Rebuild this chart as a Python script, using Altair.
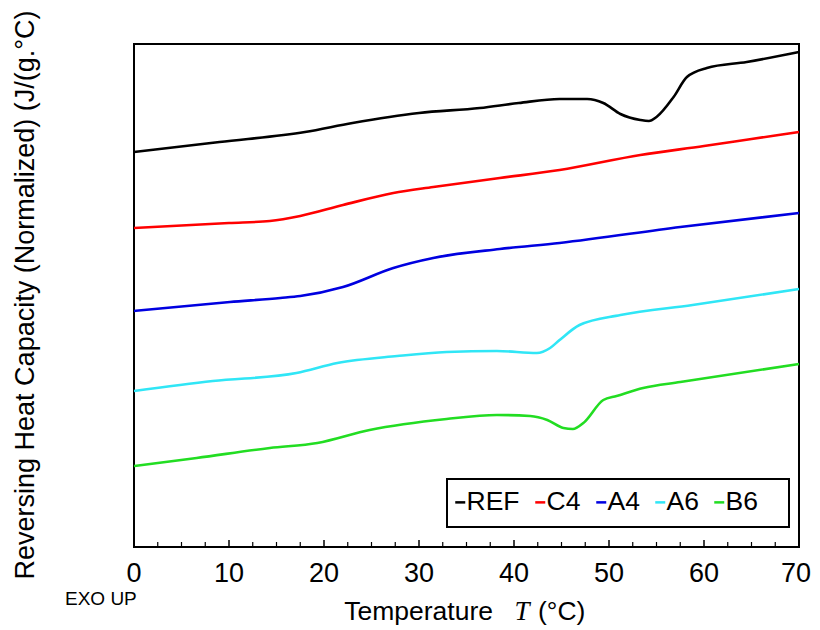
import altair as alt
import pandas as pd

# ---- data (x = temperature in °C, y = curve height, arbitrary units) ----
ref_t = [0, 9, 18, 23, 30, 36.4, 40.5, 44.8, 47.7, 49.4, 51.2, 53.3, 54.2, 55, 56.8, 58.2, 60.3, 64.5, 70]
ref_v = [395, 405, 415, 424, 434, 439, 444, 448, 448, 444, 433, 427, 426, 430, 450, 470, 479, 485, 495]

c4_t = [0, 10, 14.3, 17.5, 22, 27.3, 31.5, 38.5, 44.8, 53.3, 60, 65, 70]
c4_v = [319, 324, 326, 331, 342, 354, 360, 369, 377, 392, 401, 408, 415]

a4_t = [0, 10.1, 15.4, 17.5, 22, 27.3, 31.5, 38.5, 44.8, 57.5, 70]
a4_v = [236, 245, 249, 251, 260, 279, 289, 298, 304, 320, 334]

a6_t = [0, 8.3, 17.1, 21.4, 27.7, 32.9, 38.2, 42.4, 43.8, 44.8, 46.9, 51.2, 58.8, 70]
a6_v = [156, 166, 174, 184, 191, 195, 196, 194, 199, 207, 222, 232, 242, 258]

b6_t = [0, 6.6, 14.3, 19.3, 24.8, 32.9, 38.2, 41.7, 43.5, 45.2, 46.2, 47.3, 49.4, 50.8, 53.6, 57.5, 70]
b6_v = [81, 89, 99, 104, 117, 128, 132, 131, 127, 119, 118, 124, 147, 151, 159, 165, 183]

names = ["REF", "C4", "A4", "A6", "B6"]
colors = ["#000000", "#ff0000", "#0000e0", "#30e6f6", "#22dd22"]

major_ticks = [0, 10, 20, 30, 40, 50, 60, 70]
minor_ticks = [2.5, 5, 7.5, 12.5, 15, 17.5, 22.5, 25, 27.5, 32.5, 35, 37.5,
               42.5, 45, 47.5, 52.5, 55, 57.5, 62.5, 65, 67.5]

series = [(n, t, v) for n, t, v in zip(names,
                                       [ref_t, c4_t, a4_t, a6_t, b6_t],
                                       [ref_v, c4_v, a4_v, a6_v, b6_v])]
rows = []
for name, ts, vs in series:
    for t, v in zip(ts, vs):
        rows.append({"sample": name, "T": t, "cp": v})
df = pd.DataFrame(rows)

W, H = 665, 503
FONT = "Liberation Sans"
xs = alt.Scale(domain=[0, 70], nice=False, zero=False)
ys = alt.Scale(domain=[0, 503], nice=False, zero=False)

box = alt.Chart(pd.DataFrame({"a": [0]})).mark_rect(
    fill="white", stroke="black", strokeWidth=2
).encode(x=alt.value(313), x2=alt.value(655), y=alt.value(435), y2=alt.value(483))

lines = alt.Chart(df).mark_line(strokeWidth=2.6, interpolate="monotone").encode(
    x=alt.X("T:Q", scale=xs, axis=None),
    y=alt.Y("cp:Q", scale=ys, axis=None),
    color=alt.Color("sample:N", scale=alt.Scale(domain=names, range=colors),
                    legend=alt.Legend(title=None, orient="none", legendX=313, legendY=445,
                                      direction="horizontal", columns=5,
                                      symbolType="stroke", symbolSize=100,
                                      symbolStrokeWidth=2.5, labelFontSize=26.5,
                                      labelFont=FONT, labelColor="black",
                                      labelOffset={"expr": "-7"}, columnPadding=7,
                                      padding=0)),
)

maj = alt.Chart(pd.DataFrame({"T": major_ticks})).mark_rule(color="black", strokeWidth=1.5).encode(
    x=alt.X("T:Q", scale=xs), y=alt.value(H), y2=alt.value(H - 7))
mnr = alt.Chart(pd.DataFrame({"T": minor_ticks})).mark_rule(color="black", strokeWidth=1.2).encode(
    x=alt.X("T:Q", scale=xs), y=alt.value(H), y2=alt.value(H - 5))

# tick labels (last one nudged left so it stays inside the page)
lab_df = pd.DataFrame({"T": major_ticks, "lab": [str(v) for v in major_ticks]})
labs_main = alt.Chart(lab_df[lab_df["T"] < 70]).mark_text(
    fontSize=27, font=FONT, color="black", align="center", baseline="alphabetic"
).encode(x=alt.X("T:Q", scale=xs), y=alt.value(H + 35), text="lab:N")
labs_last = alt.Chart(lab_df[lab_df["T"] == 70]).mark_text(
    fontSize=27, font=FONT, color="black", align="center", baseline="alphabetic", dx=-3
).encode(x=alt.X("T:Q", scale=xs), y=alt.value(H + 35), text="lab:N")


def txt(s, x, y, **kw):
    return alt.Chart(pd.DataFrame({"t": [s]})).mark_text(color="black", **kw).encode(
        x=alt.value(x), y=alt.value(y), text="t:N")


t1 = txt("Temperature", 359, 576, align="right", baseline="alphabetic", fontSize=26.5, font=FONT)
t2 = txt("T", 388, 576, align="center", baseline="alphabetic", fontSize=27,
         font="Liberation Serif", fontStyle="italic")
t3 = txt("(°C)", 404, 576, align="left", baseline="alphabetic", fontSize=26.5, font=FONT)
ytitle = txt("Reversing Heat Capacity (Normalized)  (J/(g.°C)", -100, 251, align="center",
             baseline="alphabetic", fontSize=27, font=FONT, angle=270)
exo = txt("EXO UP", -69, 561, align="left", baseline="alphabetic", fontSize=19, font=FONT)

chart = alt.layer(box, lines, maj, mnr, labs_main, labs_last, t1, t2, t3, ytitle, exo).properties(
    width=W, height=H,
    padding={"left": 126, "top": 36, "right": 13, "bottom": 82},
    autosize=alt.AutoSizeParams(type="none"),
).configure_view(stroke="black", strokeWidth=2)

chart.save("out.html", embed_options={"renderer": "svg", "actions": False})
